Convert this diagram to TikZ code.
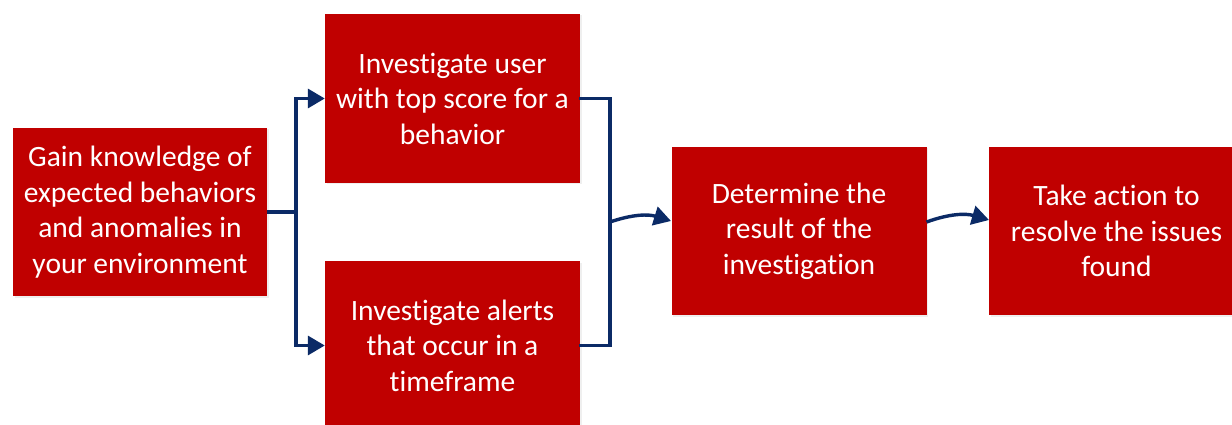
\documentclass[tikz,border=0pt]{standalone}
\usepackage{fontspec}
\setmainfont[Ligatures=NoCommon]{Carlito}
\usetikzlibrary{arrows.meta,shadows}
\definecolor{boxred}{HTML}{C00000}
\definecolor{linenavy}{HTML}{0B2A66}
\tikzset{
  stepbox/.style={fill=boxred, draw=none, minimum width=255pt, minimum height=168pt,
    inner sep=0pt, text=white, align=center, font=\fontsize{29.5}{35.5}\selectfont,
    drop shadow={opacity=0.12, shadow xshift=1.5pt, shadow yshift=-1.5pt}},
  conn/.style={draw=linenavy, line width=3.4pt},
  arr/.style={conn, -{Triangle[length=17pt,width=19pt]}}
}
\begin{document}
\begin{tikzpicture}[x=1pt,y=-1pt]
\useasboundingbox (0,0) rectangle (1232,425);
\clip (0,0) rectangle (1232,425);
\fill[white] (0,0) rectangle (1232,425);
\node[stepbox, minimum width=254pt] (A) at (140,212) {Gain knowledge of\\expected behaviors\\and anomalies in\\your environment};
\node[stepbox, minimum height=169pt] (B) at (452.5,98.5) {Investigate user\\with top score for a\\behavior};
\node[stepbox, minimum height=169pt] (C) at (452.5,345.5) {Investigate alerts\\that occur in a\\timeframe};
\node[stepbox] (D) at (799,231) {Determine the\\result of the\\investigation};
\node[stepbox] (E) at (1116.5,231) {Take action to\\resolve the issues\\found};
\coordinate (j1) at (296,212);
\coordinate (j2) at (610,222);
\coordinate (dIn) at (671,221);
\coordinate (dOut) at (926.5,222);
\coordinate (eIn) at (989,220);
\draw[conn] (A.east |- j1) -- (j1);
\draw[arr] (j1) |- (B.west);
\draw[arr] (j1) |- (C.west);
\draw[conn, line cap=rect] (B.east) -| (j2) |- (C.east);
\draw[arr] (j2) to[bend left=18] (dIn);
\draw[arr] (dOut) to[bend left=18] (eIn);
\end{tikzpicture}
\end{document}
